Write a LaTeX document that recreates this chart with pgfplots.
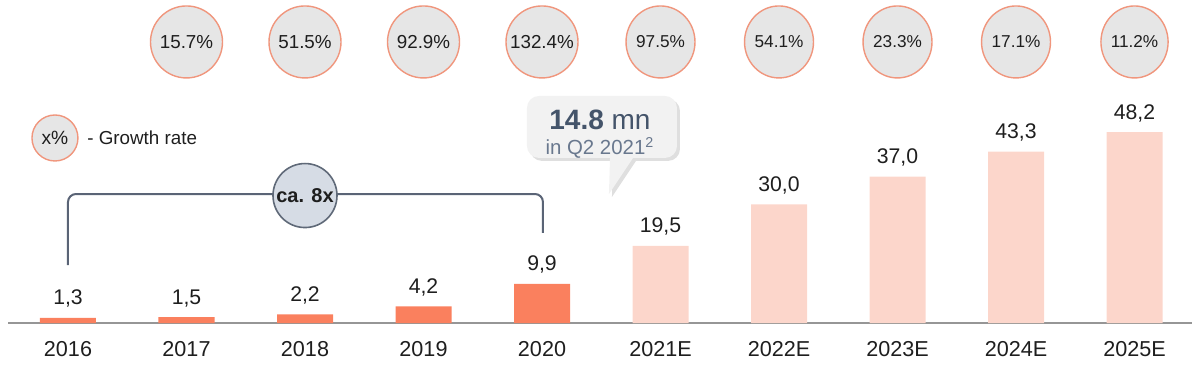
\documentclass[border=0pt]{standalone}
\usepackage{pgfplots}
\pgfplotsset{compat=1.18}
\usepackage{pgfplotstable}
\usepackage{fontspec}
\setmainfont{Liberation Sans}
\usetikzlibrary{shapes.geometric,shadows}

\definecolor{barA}{RGB}{250,128,94}
\definecolor{barE}{RGB}{252,214,203}
\definecolor{circF}{RGB}{230,230,230}
\definecolor{circB}{RGB}{240,150,125}
\definecolor{eightF}{RGB}{214,220,229}
\definecolor{eightB}{RGB}{95,105,120}
\definecolor{brk}{RGB}{90,100,118}
\definecolor{baseL}{RGB}{150,150,150}
\definecolor{callF}{RGB}{242,242,242}
\definecolor{slate}{RGB}{68,84,106}
\definecolor{slateL}{RGB}{105,120,142}
\definecolor{txt}{RGB}{30,30,30}

\pgfplotstableread{
x y label
0 1.3 1,3
1 1.5 1,5
2 2.2 2,2
3 4.2 4,2
4 9.9 9,9
}\actual
\pgfplotstableread{
x y label
5 19.5 19,5
6 30.0 30,0
7 37.0 37,0
8 43.3 43,3
9 48.2 48,2
}\estimate
\pgfplotstableread{
x y label
1 71 15.7
2 71 51.5
3 71 92.9
4 71 132.4
}\growthA
\pgfplotstableread{
x y label
5 71 97.5
6 71 54.1
7 71 23.3
8 71 17.1
9 71 11.2
}\growthB

\begin{document}
\begin{tikzpicture}
\begin{axis}[
  scale only axis, width=600pt, height=161.5pt,
  xmin=-0.5738, xmax=9.5527, ymin=0, ymax=81.6,
  axis line style={draw=none}, tick style={draw=none}, ytick=\empty,
  xtick={0,...,9},
  xticklabels={2016,2017,2018,2019,2020,2021E,2022E,2023E,2024E,2025E},
  xticklabel style={font=\fontsize{10.8}{12}\selectfont, anchor=base, yshift=-16.5pt, text=txt},
  clip=false,
]
\coordinate (BL) at (axis cs:-0.5738,-10.61);
\coordinate (TR) at (axis cs:9.5527,81.6);

\draw[baseL, line width=1pt] (axis cs:-0.506,0) -- (axis cs:9.485,0);

\addplot[ybar, bar width=28pt, bar shift=0pt, fill=barA, draw=none,
  nodes near coords, point meta=explicit symbolic,
  every node near coord/.append style={font=\fontsize{10.6}{12}\selectfont, text=txt, anchor=base, yshift=6.5pt}]
  table[x=x,y=y,meta=label]{\actual};
\addplot[ybar, bar width=28pt, bar shift=0pt, fill=barE, draw=none,
  nodes near coords, point meta=explicit symbolic,
  every node near coord/.append style={font=\fontsize{10.6}{12}\selectfont, text=txt, anchor=base, yshift=6.5pt}]
  table[x=x,y=y,meta=label]{\estimate};

\addplot[draw=none, mark=none,
  nodes near coords={\pgfplotspointmeta\%}, point meta=explicit symbolic,
  nodes near coords align={center},
  every node near coord/.append style={circle, draw=circB, fill=circF, line width=0.7pt,
    minimum size=36pt, inner sep=0pt, anchor=center, font=\fontsize{9.4}{11}\selectfont, text=txt}]
  table[x=x,y=y,meta=label]{\growthA};
\addplot[draw=none, mark=none,
  nodes near coords={\pgfplotspointmeta\%}, point meta=explicit symbolic,
  nodes near coords align={center},
  every node near coord/.append style={ellipse, draw=circB, fill=circF, line width=0.7pt,
    minimum width=30.5pt, minimum height=36pt, inner sep=0pt, anchor=center, font=\fontsize{8.6}{11}\selectfont, text=txt}]
  table[x=x,y=y,meta=label]{\growthB};

% legend
\node[circle, draw=circB, fill=circF, line width=0.7pt, minimum size=23pt, inner sep=0pt,
  font=\fontsize{9.6}{11}\selectfont, text=txt] at (axis cs:-0.110,46.74) {x\%};
\node[anchor=west, inner sep=0pt, font=\fontsize{9.4}{11}\selectfont, text=txt] at (axis cs:0.16,46.74) {- Growth rate};

% bracket
\draw[brk, line width=1pt, rounded corners=4pt] (axis cs:0,14.65) |- (axis cs:4.008,32.59) -- (axis cs:4.008,22.74);
\node[circle, draw=eightB, fill=eightF, line width=0.8pt, minimum size=32pt, inner sep=0pt,
  font=\fontsize{10}{11}\selectfont\bfseries, text=txt] at (axis cs:2.0,32.2) {ca. 8x};

% callout
\path[fill=callF, drop shadow={shadow xshift=1.5pt, shadow yshift=-1.5pt, opacity=0.25}]
  [rounded corners=6pt] (axis cs:3.873,57.35) -- (axis cs:5.139,57.35) -- (axis cs:5.139,41.7)
  [sharp corners] -- (axis cs:4.768,41.7) -- (axis cs:4.565,32.6) -- (axis cs:4.574,41.7)
  [rounded corners=6pt] -- (axis cs:3.873,41.7) -- cycle;
\node[anchor=base, inner sep=0pt, text=slate, font=\fontsize{14}{16}\selectfont] at (axis cs:4.489,48.76) {\textbf{14.8} mn};
\node[anchor=base, inner sep=0pt, text=slateL, font=\fontsize{10.2}{12}\selectfont] at (axis cs:4.489,42.45) {in Q2 2021\textsuperscript{2}};
\end{axis}
\pgfresetboundingbox
\path[use as bounding box] (BL) rectangle (TR);
\end{tikzpicture}
\end{document}
